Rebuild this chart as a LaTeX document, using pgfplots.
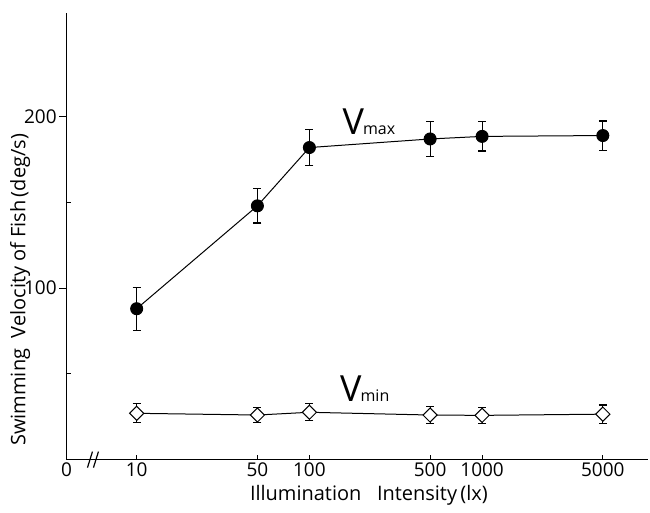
\documentclass[border=0pt]{standalone}
\usepackage{fontspec}
\setmainfont{Open Sans}
\usepackage{pgfplots}
\pgfplotsset{compat=1.18}

% Swimming velocity (deg/s) vs. illumination (lx): mean and error half-width
\pgfplotstableread{
lx   v     e
10   88    12.5
50   148   10
100  182   10.5
500  187   10
1000 188.5 8.5
5000 189   8.5
}\vmax
\pgfplotstableread{
lx   v     e
10   27    5.5
50   26    4.3
100  27.6  5
500  26    4.8
1000 25.8  4.7
5000 26.5  5.4
}\vmin

\begin{document}
\begin{tikzpicture}
\begin{axis}[
  scale only axis, width=291pt, height=223.5pt,
  xmode=log, xmin=3.923, xmax=9134, ymin=0, ymax=260.5,
  axis lines=left, axis line style={line width=0.8pt, -},
  xtick={10,50,100,500,1000,5000},
  xticklabels={10,50,100,500,1000,5000},
  xminorticks=false, yminorticks=false,
  ytick={50,150}, yticklabels={},
  extra y ticks={100,200}, extra y tick labels={100,200},
  extra y tick style={tick align=outside, major tick length=3.5pt},
  tick align=inside, major tick length=2.5pt,
  tick style={black, line width=0.6pt},
  ticklabel style={font=\fontsize{9.5}{11}\selectfont, inner sep=1.2pt},
  /pgf/number format/assume math mode=true,
  clip=false,
]
  % outer frame of the figure
  \path (rel axis cs:-0.1143,-0.1119) rectangle (rel axis cs:1.0034,1.029);

  \addplot[black, line width=0.5pt, mark=*, mark size=3pt,
    error bars/.cd, y dir=both, y explicit,
    error bar style={line width=0.5pt},
    error mark options={rotate=90, mark size=2pt, line width=0.6pt}]
    table[x=lx, y=v, y error=e] {\vmax};

  \addplot[black, line width=0.5pt, mark=square*, mark size=2.5pt,
    mark options={rotate=45, fill=white},
    error bars/.cd, y dir=both, y explicit,
    error bar style={line width=0.5pt},
    error mark options={rotate=90, mark size=2pt, line width=0.6pt}]
    table[x=lx, y=v, y error=e] {\vmin};

  \node[anchor=base west, inner sep=0pt] at (axis cs:155,189.4)
    {\fontsize{18}{18}\selectfont V\kern-0.5pt\fontsize{8}{8}\selectfont max};
  \node[anchor=base west, inner sep=0pt] at (axis cs:150,34)
    {\fontsize{18}{18}\selectfont V\kern-0.5pt\fontsize{8}{8}\selectfont min};

  % origin label and axis break
  \node[below, inner sep=1.2pt, font=\fontsize{9.5}{11}\selectfont] at (rel axis cs:0,0) {0};
  \draw[line width=0.6pt] ([shift={(-1.25pt,-4pt)}]rel axis cs:0.0404,0) -- ++(2.5pt,8pt);
  \draw[line width=0.6pt] ([shift={(-1.25pt,-4pt)}]rel axis cs:0.0507,0) -- ++(2.5pt,8pt);

  % axis titles
  \node[rotate=90, font=\fontsize{10}{12}\selectfont] at (rel axis cs:-0.0799,0.38)
    {Swimming\ \ Velocity\ of\ Fish\,(deg/s)};
  \node[font=\fontsize{10}{12}\selectfont] at (rel axis cs:0.52,-0.0805)
    {Illumination\ \ \ Intensity\,(lx)};
\end{axis}
\end{tikzpicture}
\end{document}
